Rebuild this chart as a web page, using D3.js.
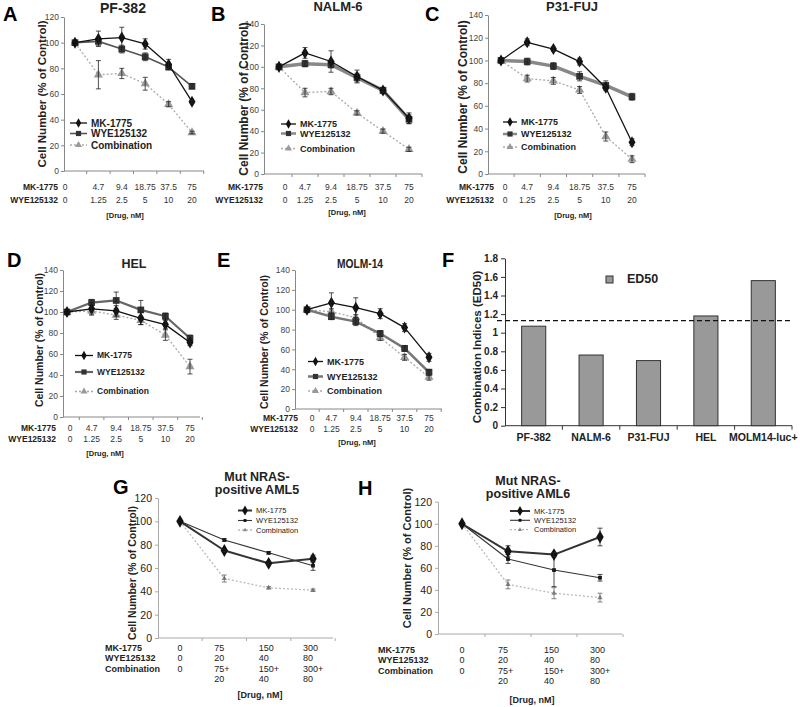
<!DOCTYPE html>
<html><head><meta charset="utf-8">
<script src="https://cdn.jsdelivr.net/npm/d3@7"></script>
<style>body{margin:0;background:#fff} svg{display:block}</style>
</head><body>
<svg id="fig" width="800" height="707"></svg>
<script>
// ================= DATA =================
const doseMK  = ["0","4.7","9.4","18.75","37.5","75"];
const doseWYE = ["0","1.25","2.5","5","10","20"];
const yTicks120 = [0,20,40,60,80,100,120];
const yTicks140 = [0,20,40,60,80,100,120,140];
const seriesNames = ["MK-1775","WYE125132","Combination"];
const rowNames = ["MK-1775","WYE125132"];

// A  PF-382
const pf382MK = [100,103,104,99,83,54];      const pf382MKErr = [0,6,8,4,4,1];
const pf382WYE = [100,101,95,89,81,66];      const pf382WYEErr = [0,3,3,3,2,2];
const pf382Combo = [100,75,76,68,52,30];     const pf382ComboErr = [0,11,4,5,2,1];
// B  NALM-6
const nalmMK = [100,113,105,91,78,52];       const nalmMKErr = [0,5,10,6,2,5];
const nalmWYE = [100,103,102,90,78,51];      const nalmWYEErr = [0,3,3,4,3,4];
const nalmCombo = [100,76,77,57,40,23];      const nalmComboErr = [0,4,3,2,2,2];
// C  P31-FUJ
const p31MK = [100,116,110,99,76,28];        const p31MKErr = [0,3,2,3,2,3];
const p31WYE = [100,99,95,86,78,68];         const p31WYEErr = [0,3,3,4,4,3];
const p31Combo = [100,84,82,74,33,13];       const p31ComboErr = [0,3,3,3,4,3];
// D  HEL
const helMK = [100,103,101,94,88,71];        const helMKErr = [0,6,5,6,4,3];
const helWYE = [100,109,111,102,96,75];      const helWYEErr = [0,3,8,9,3,3];
const helCombo = [100,101,97,92,78,48];      const helComboErr = [0,3,4,4,5,7];
// E  MOLM-14
const molmMK = [100,107,102,96,82,52];       const molmMKErr = [0,10,10,5,4,4];
const molmWYE = [100,93,88,76,61,37];        const molmWYEErr = [0,3,4,3,3,3];
const molmCombo = [100,98,92,72,52,32];      const molmComboErr = [0,3,3,3,3,3];

// F  combination indices
const fCells = ["PF-382","NALM-6","P31-FUJ","HEL","MOLM14-luc+"];
const fED50 = [1.07,0.76,0.70,1.18,1.56];
const fThreshold = 1.13;
const fTicks = [0,0.2,0.4,0.6,0.8,1,1.2,1.4,1.6,1.8];

// G / H  mut NRAS-positive AML
const ghMK = ["0","75","150","300"];
const ghWYE = ["0","20","40","80"];
const ghCombo1 = ["0","75+","150+","300+"];
const ghCombo2 = ["","20","40","80"];
const ghRowNames = ["MK-1775","WYE125132","Combination"];
const aml5MK = [100,75,64,68];     const aml5MKErr = [0,1,1,3];
const aml5WYE = [100,84,73,62];    const aml5WYEErr = [0,1,1,4];
const aml5Combo = [100,51,43,41];  const aml5ComboErr = [0,3,1,1];
const aml6MK = [100,75,72,88];     const aml6MKErr = [0,5,2,8];
const aml6WYE = [100,68,58,51];    const aml6WYEErr = [0,4,15,3];
const aml6Combo = [100,45,37,33];  const aml6ComboErr = [0,4,5,4];

// ================= DRAWING =================
const svg = d3.select("#fig");
const FONT = "'Liberation Sans', Arial, Helvetica, sans-serif";

function txt(g, x, y, s, o = {}) {
  const t = g.append("text").attr("x", x).attr("y", y).text(s)
    .attr("font-family", FONT).attr("font-size", o.size || 10)
    .attr("font-weight", o.bold ? "bold" : "normal")
    .attr("fill", o.fill || "#222")
    .attr("text-anchor", o.anchor || "start");
  if (o.rotate) t.attr("transform", `rotate(-90,${x},${y})`);
  if (o.len) t.attr("textLength", o.len).attr("lengthAdjust", "spacingAndGlyphs");
  return t;
}

function drawSeries(g, x, y, vals, errs, st) {
  const line = d3.line().x((d, i) => x(i)).y(d => y(d));
  g.append("path").datum(vals).attr("d", line).attr("fill", "none")
    .attr("stroke", st.stroke).attr("stroke-width", st.width)
    .attr("stroke-dasharray", st.dash || null).attr("stroke-linejoin", "round");
  const sym = d3.symbol().type(st.sym).size(st.size);
  g.selectAll(null).data(vals).join("path")
    .attr("d", sym).attr("transform", (d, i) => `translate(${x(i)},${y(d)})`)
    .attr("fill", st.fill).attr("stroke", st.mstroke || "none").attr("stroke-width", 0.6);
  const eb = g.append("g").attr("stroke", st.err || "#222").attr("stroke-width", 0.8);
  vals.forEach((v, i) => {
    const e = errs[i]; if (!e) return;
    const cx = x(i), c = 2.5;
    eb.append("line").attr("x1", cx).attr("x2", cx).attr("y1", y(v - e)).attr("y2", y(v + e));
    eb.append("line").attr("x1", cx - c).attr("x2", cx + c).attr("y1", y(v - e)).attr("y2", y(v - e));
    eb.append("line").attr("x1", cx - c).attr("x2", cx + c).attr("y1", y(v + e)).attr("y2", y(v + e));
  });
}

function legendItem(g, x0, len, yy, st, label, size, bold) {
  g.append("line").attr("x1", x0).attr("x2", x0 + len).attr("y1", yy).attr("y2", yy)
    .attr("stroke", st.stroke).attr("stroke-width", Math.min(st.width, 2.5))
    .attr("stroke-dasharray", st.dash || null);
  g.append("path").attr("d", d3.symbol().type(st.sym).size(st.size * 0.6)())
    .attr("transform", `translate(${x0 + len / 2},${yy})`).attr("fill", st.fill);
  txt(g, x0 + len + 4, yy + size * 0.35, label, {size, bold});
}

function dosePanel(L, S) {
  const g = svg.append("g");
  const idx = d3.range(doseMK.length);
  const x = d3.scalePoint().domain(idx).range([L.pt0, L.ptN]);
  const y = d3.scaleLinear().domain([0, L.yMax]).range([L.yBot, L.yTop]);
  const ya = g.append("g").attr("transform", `translate(${L.ax0},0)`)
    .call(d3.axisLeft(y).tickValues(L.ticks).tickSize(3).tickSizeOuter(0).tickPadding(2));
  ya.select(".domain").attr("stroke", "#888");
  ya.selectAll(".tick line").attr("stroke", "#888");
  ya.selectAll("text").attr("font-family", FONT).attr("font-size", 8.5).attr("fill", "#444");
  g.append("line").attr("x1", L.ax0).attr("x2", L.ax1).attr("y1", L.yBot).attr("y2", L.yBot).attr("stroke", "#888");
  const step = x.step();
  idx.forEach(i => {
    const bx = x(i) + step / 2;
    g.append("line").attr("x1", bx).attr("x2", bx).attr("y1", L.yBot).attr("y2", L.yBot + 3).attr("stroke", "#888");
  });
  const sty = {
    mk: {stroke: "#111", width: 1.3, sym: d3.symbolDiamond, size: 42, fill: "#111"},
    wye: {stroke: L.wyeStroke, width: L.wyeWidth, sym: d3.symbolSquare, size: 45, fill: "#333"},
    combo: {stroke: "#aaa", width: 1.3, dash: "2,2", sym: d3.symbolTriangle, size: 36, fill: "#999"}
  };
  drawSeries(g, x, y, S.combo, S.comboErr, sty.combo);
  drawSeries(g, x, y, S.wye, S.wyeErr, sty.wye);
  drawSeries(g, x, y, S.mk, S.mkErr, sty.mk);
  [sty.mk, sty.wye, sty.combo].forEach((st, k) =>
    legendItem(g, L.legX, L.legLen, L.legY[k], st, seriesNames[k], L.legSize, true));
  txt(g, L.titleX, L.titleY, L.title, {size: L.titleSize, bold: true, anchor: "middle", len: L.titleLen});
  txt(g, L.letterX, L.letterY, L.letter, {size: 20, bold: true, fill: "#000"});
  txt(g, L.yTitleX, L.yTitleY, "Cell Number (% of Control)", {size: L.yTitleSize, bold: true, anchor: "middle", rotate: true});
  [doseMK, doseWYE].forEach((row, r) => {
    txt(g, L.rowX, L.rowY[r], rowNames[r], {size: 8.5, bold: true, anchor: "end"});
    row.forEach((v, i) => txt(g, i === 0 ? L.t0 : x(i), L.rowY[r], v, {size: 8.5, anchor: "middle", fill: "#333"}));
  });
  txt(g, L.drugX, L.drugY, "[Drug, nM]", {size: 7.5, bold: true, anchor: "middle"});
}

dosePanel({ax0:64, ax1:204, pt0:75, ptN:192, yTop:17, yBot:171, yMax:120, ticks:yTicks120,
  title:"PF-382", titleX:123, titleY:13, titleSize:14, letter:"A", letterX:3, letterY:21,
  yTitleX:46, yTitleY:94, yTitleSize:11.5, rowX:58, rowY:[189.5,202.5], t0:65, drugX:125, drugY:218,
  legX:70, legLen:17, legY:[123,133.5,145], legSize:10, wyeStroke:"#555", wyeWidth:1.6},
  {mk:pf382MK, mkErr:pf382MKErr, wye:pf382WYE, wyeErr:pf382WYEErr, combo:pf382Combo, comboErr:pf382ComboErr});

dosePanel({ax0:264, ax1:422, pt0:279, ptN:409, yTop:24, yBot:174, yMax:140, ticks:yTicks140,
  title:"NALM-6", titleX:338, titleY:11, titleSize:13, letter:"B", letterX:211, letterY:21,
  yTitleX:248, yTitleY:99, yTitleSize:12, rowX:263, rowY:[189.5,202.5], t0:285, drugX:347, drugY:215,
  legX:281, legLen:15, legY:[124,133.5,148.5], legSize:9, wyeStroke:"#888", wyeWidth:3.5},
  {mk:nalmMK, mkErr:nalmMKErr, wye:nalmWYE, wyeErr:nalmWYEErr, combo:nalmCombo, comboErr:nalmComboErr});

dosePanel({ax0:488, ax1:645, pt0:501, ptN:632, yTop:15, yBot:174, yMax:140, ticks:yTicks140,
  title:"P31-FUJ", titleX:572, titleY:11, titleSize:13, letter:"C", letterX:425, letterY:21,
  yTitleX:467, yTitleY:97, yTitleSize:12, rowX:494, rowY:[190,202.5], t0:505, drugX:573, drugY:218,
  legX:503, legLen:14, legY:[122,134,147], legSize:9, wyeStroke:"#888", wyeWidth:3.5},
  {mk:p31MK, mkErr:p31MKErr, wye:p31WYE, wyeErr:p31WYEErr, combo:p31Combo, comboErr:p31ComboErr});

dosePanel({ax0:63, ax1:200, pt0:67, ptN:190, yTop:270, yBot:417, yMax:140, ticks:yTicks140,
  title:"HEL", titleX:134, titleY:268, titleSize:12.5, letter:"D", letterX:7, letterY:267,
  yTitleX:43, yTitleY:340, yTitleSize:10.5, rowX:56, rowY:[430.5,441.5], t0:70, drugX:105, drugY:456,
  legX:75, legLen:18, legY:[355.5,372,391.5], legSize:8.5, wyeStroke:"#666", wyeWidth:2.2},
  {mk:helMK, mkErr:helMKErr, wye:helWYE, wyeErr:helWYEErr, combo:helCombo, comboErr:helComboErr});

dosePanel({ax0:295, ax1:442, pt0:307, ptN:429, yTop:270, yBot:409, yMax:140, ticks:yTicks140,
  title:"MOLM-14", titleX:360, titleY:268, titleSize:13, titleLen:46, letter:"E", letterX:217, letterY:267,
  yTitleX:268, yTitleY:342, yTitleSize:10.5, rowX:298, rowY:[421,431.5], t0:312, drugX:357, drugY:445,
  legX:308, legLen:15, legY:[361.5,376.5,391], legSize:9, wyeStroke:"#777", wyeWidth:2.5},
  {mk:molmMK, mkErr:molmMKErr, wye:molmWYE, wyeErr:molmWYEErr, combo:molmCombo, comboErr:molmComboErr});

// ---------- F ----------
(function () {
  const g = svg.append("g");
  const ax0 = 505, ax1 = 792, yTop = 258.3, yBot = 425.7;
  const x = d3.scaleBand().domain(fCells).range([ax0, ax1]).paddingInner(0.58).paddingOuter(0.29);
  const y = d3.scaleLinear().domain([0, 1.8]).range([yBot, yTop]);
  const ya = g.append("g").attr("transform", `translate(${ax0},0)`)
    .call(d3.axisLeft(y).tickValues(fTicks).tickFormat(d3.format("~g")).tickSize(4).tickSizeOuter(0).tickPadding(3));
  ya.select(".domain").attr("stroke", "#333");
  ya.selectAll(".tick line").attr("stroke", "#333");
  ya.selectAll("text").attr("font-family", FONT).attr("font-size", 10).attr("font-weight", "bold").attr("fill", "#222");
  g.append("line").attr("x1", ax0).attr("x2", ax1).attr("y1", yBot).attr("y2", yBot).attr("stroke", "#333");
  fCells.forEach((c, i) => {
    const bx = x(c) + x.bandwidth() / 2 + x.step() / 2;
    g.append("line").attr("x1", bx).attr("x2", bx).attr("y1", yBot).attr("y2", yBot + 4).attr("stroke", "#333");
  });
  g.selectAll(null).data(fED50).join("rect")
    .attr("x", (d, i) => x(fCells[i])).attr("width", x.bandwidth())
    .attr("y", d => y(d)).attr("height", d => yBot - y(d))
    .attr("fill", "#999").attr("stroke", "#333").attr("stroke-width", 1);
  g.append("line").attr("x1", 497).attr("x2", 790).attr("y1", y(fThreshold)).attr("y2", y(fThreshold))
    .attr("stroke", "#111").attr("stroke-width", 1.3).attr("stroke-dasharray", "5,3");
  fCells.forEach(c => txt(g, x(c) + x.bandwidth() / 2, 440.5, c, {size: 10.5, bold: true, anchor: "middle"}));
  g.append("rect").attr("x", 606).attr("y", 276).attr("width", 7).attr("height", 7)
    .attr("fill", "#999").attr("stroke", "#333");
  txt(g, 627, 283, "ED50", {size: 12.5, bold: true});
  txt(g, 481, 347, "Combination Indices (ED50)", {size: 11.5, bold: true, anchor: "middle", rotate: true});
  txt(g, 442, 267, "F", {size: 20, bold: true, fill: "#000"});
})();

// ---------- G / H ----------
function amlPanel(L, S) {
  const g = svg.append("g");
  const idx = d3.range(ghMK.length);
  const x = d3.scalePoint().domain(idx).range([L.pt0, L.ptN]);
  const y = d3.scaleLinear().domain([0, 120]).range([L.yBot, L.yTop]);
  const ya = g.append("g").attr("transform", `translate(${L.ax0},0)`)
    .call(d3.axisLeft(y).tickValues(yTicks120).tickSize(3).tickSizeOuter(0).tickPadding(3));
  ya.select(".domain").attr("stroke", "#aaa");
  ya.selectAll(".tick line").attr("stroke", "#aaa");
  ya.selectAll("text").attr("font-family", FONT).attr("font-size", 10.5).attr("fill", "#222");
  g.append("line").attr("x1", L.ax0).attr("x2", L.ax1).attr("y1", L.yBot).attr("y2", L.yBot).attr("stroke", "#aaa");
  idx.forEach(i => {
    const bx = x(i) + x.step() / 2;
    g.append("line").attr("x1", bx).attr("x2", bx).attr("y1", L.yBot).attr("y2", L.yBot + 3).attr("stroke", "#aaa");
  });
  const sty = {
    mk: {stroke: "#333", width: 2, sym: d3.symbolDiamond, size: 48, fill: "#111"},
    wye: {stroke: "#333", width: 1.1, sym: d3.symbolSquare, size: 14, fill: "#111"},
    combo: {stroke: "#bbb", width: 1.3, dash: "2,2", sym: d3.symbolTriangle, size: 12, fill: "#888", err: "#666"}
  };
  drawSeries(g, x, y, S.combo, S.comboErr, sty.combo);
  drawSeries(g, x, y, S.wye, S.wyeErr, sty.wye);
  drawSeries(g, x, y, S.mk, S.mkErr, sty.mk);
  [sty.mk, sty.wye, sty.combo].forEach((st, k) =>
    legendItem(g, L.legX, L.legLen, L.legY[k], st, seriesNames[k], 7.5, false));
  txt(g, L.titleX, L.titleY[0], "Mut NRAS-", {size: 12.5, bold: true, anchor: "middle"});
  txt(g, L.titleX, L.titleY[1], L.title2, {size: 12.5, bold: true, anchor: "middle"});
  txt(g, L.letterX, L.letterY, L.letter, {size: 20, bold: true, fill: "#000"});
  txt(g, L.yTitleX, L.yTitleY, "Cell Number (% of Control)", {size: L.yTitleSize, bold: true, anchor: "middle", rotate: true});
  [ghMK, ghWYE, ghCombo1, ghCombo2].forEach((row, r) => {
    if (r < 3) txt(g, L.rowX, L.rowY[r], ghRowNames[r], {size: 9, bold: true});
    row.forEach((v, i) => {
      if (!v) return;
      if (i === 0) txt(g, x(0), L.rowY[r], v, {size: 9, anchor: "middle"});
      else txt(g, x(i) - 10, L.rowY[r], v, {size: 9});
    });
  });
  txt(g, L.drugX, L.drugY, "[Drug, nM]", {size: 9, bold: true, anchor: "middle"});
}

amlPanel({ax0:158, ax1:333, pt0:180, ptN:313, yTop:498, yBot:638, title2:"positive AML5",
  titleX:257, titleY:[481,494], letter:"G", letterX:113, letterY:494, yTitleX:136, yTitleY:573, yTitleSize:10.5,
  rowX:105, rowY:[650.5,661,671.5,682], drugX:260, drugY:697.5, legX:238, legLen:14, legY:[510.5,520.5,530]},
  {mk:aml5MK, mkErr:aml5MKErr, wye:aml5WYE, wyeErr:aml5WYEErr, combo:aml5Combo, comboErr:aml5ComboErr});

amlPanel({ax0:438, ax1:622, pt0:462, ptN:600, yTop:501.7, yBot:634, title2:"positive AML6",
  titleX:528, titleY:[485,498], letter:"H", letterX:358, letterY:495, yTitleX:411, yTitleY:558, yTitleSize:11,
  rowX:378, rowY:[652.5,663,673.5,684], drugX:532, drugY:703, legX:510, legLen:20, legY:[511,520.3,529.7]},
  {mk:aml6MK, mkErr:aml6MKErr, wye:aml6WYE, wyeErr:aml6WYEErr, combo:aml6Combo, comboErr:aml6ComboErr});
</script>
</body></html>
